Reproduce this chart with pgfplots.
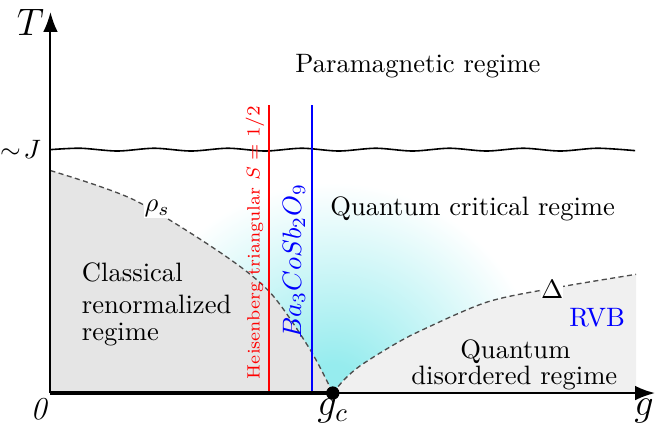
\documentclass[border=0pt]{standalone}
\usepackage{pgfplots}
\pgfplotsset{compat=1.18}
\usetikzlibrary{arrows.meta}
\definecolor{qccyan}{RGB}{150,236,238}
\pgfdeclareradialshading{qcshade}{\pgfpointorigin}{color(0bp)=(qccyan); color(3bp)=(qccyan); color(22bp)=(white); color(50bp)=(white)}
\begin{document}
\begin{tikzpicture}
\begin{axis}[
  x=0.375pt, y=0.375pt,
  xmin=0, xmax=606, ymin=0, ymax=382,
  axis lines=left,
  axis line style={line width=0.75pt, -{Latex[length=7.5pt,width=5.5pt]}},
  xtick=\empty, ytick=\empty,
  clip=false,
  axis on top,
]
% cyan shading around g_c (lone first point only sets the shading box)
\addplot[draw=none, shade, shading=qcshade, overlay, unbounded coords=jump] coordinates {(283,-240) (nan,nan) (43,0) (523,0) (523,240) (43,240) (43,0)};
% gray regions
\addplot[draw=none, fill=gray!20, smooth] coordinates {(0,223) (83,194) (170,141) (220,101) (260,44) (283,0)} \closedcycle;
\addplot[draw=none, fill=gray!12, smooth] coordinates {(283,0) (295,14) (310,27) (340,46) (370,62) (437,91) (503,105) (587,119)} \closedcycle;
% dashed crossover lines
\addplot[black!70, line width=0.5pt, dash pattern=on 1.9pt off 1.3pt, smooth] coordinates {(0,223) (83,194) (170,141) (220,101) (260,44) (283,0)};
\addplot[black!70, line width=0.5pt, dash pattern=on 1.9pt off 1.3pt, smooth] coordinates {(283,0) (295,14) (310,27) (340,46) (370,62) (437,91) (503,105) (587,119)};
% wavy ~J line
\addplot[black, line width=0.6pt, smooth] coordinates {(0,244) (30,245.4) (67,242.6) (104,245.4) (141,242.6) (178,245.4) (215,242.6) (252,245.4) (289,242.6) (326,245.4) (363,242.6) (400,245.4) (437,242.6) (474,245.4) (511,242.6) (548,245.4) (586,243)};
% vertical lines
\addplot[red, line width=0.55pt] coordinates {(219,0) (219,289)};
\addplot[blue, line width=0.55pt] coordinates {(262,0) (262,289)};
% ordered phase on the g axis
\addplot[black, line width=1.6pt] coordinates {(0,0) (283,0)};
\addplot[only marks, mark=*, mark size=2.3pt, black] coordinates {(283,0)};
% labels
\node at (axis cs:-20,372) {\Large $T$};
\node[anchor=east, inner sep=0pt] at (axis cs:-9,244) {$\sim\!J$};
\node[anchor=base, inner sep=0pt] at (axis cs:-12,-27) {\large\itshape 0};
\node[anchor=base, inner sep=0pt] at (axis cs:283,-23) {\Large $g_c$};
\node[anchor=base, inner sep=0pt] at (axis cs:595,-23) {\Large $g$};
\node[anchor=base west, inner sep=0pt] at (axis cs:245,321) {Paramagnetic regime};
\node[anchor=base west, inner sep=0pt] at (axis cs:280,178) {Quantum critical regime};
\node[anchor=base west, inner sep=0pt] at (axis cs:31,112) {Classical};
\node[anchor=base west, inner sep=0pt] at (axis cs:31,80) {renormalized};
\node[anchor=base west, inner sep=0pt] at (axis cs:31,53) {regime};
\node[anchor=base, inner sep=0pt] at (axis cs:466,35) {Quantum};
\node[anchor=base, inner sep=0pt] at (axis cs:465,9) {disordered regime};
\node[blue, inner sep=0pt] at (axis cs:548,76) {RVB};
\node[fill=white, inner sep=0.3pt] at (axis cs:107,185) {$\rho_s$};
\node[fill=white, inner sep=0pt] at (axis cs:503,104) {$\Delta$};
\node[rotate=90, red, inner sep=0pt, font=\fontsize{6.7}{8}\selectfont] at (axis cs:205,151) {Heisenberg triangular $S=1/2$};
\node[rotate=90, blue, inner sep=0pt] at (axis cs:244,132) {$Ba_3CoSb_2O_9$};
\end{axis}
\end{tikzpicture}
\end{document}
